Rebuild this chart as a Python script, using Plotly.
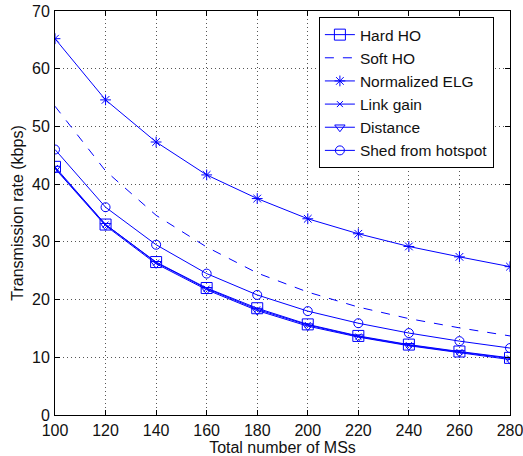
import plotly.graph_objects as go

x = [100, 120, 140, 160, 180, 200, 220, 240, 260, 280]
hard_ho = [43.0, 33.0, 26.5, 22.0, 18.5, 15.7, 13.7, 12.2, 11.0, 9.9]
soft_ho = [53.5, 42.3, 34.6, 29.1, 24.6, 21.3, 18.7, 16.7, 15.1, 13.7]
norm_elg = [65.2, 54.6, 47.3, 41.6, 37.5, 34.0, 31.4, 29.2, 27.4, 25.7]
link_gain = [42.8, 33.0, 26.4, 21.9, 18.3, 15.6, 13.6, 12.1, 10.9, 9.8]
distance = [42.7, 32.8, 26.2, 21.7, 18.1, 15.4, 13.5, 12.0, 10.8, 9.6]
shed = [46.0, 36.0, 29.5, 24.5, 20.8, 18.0, 15.9, 14.2, 12.8, 11.6]

blue = "#0000ff"
FONT = "Liberation Sans, Arial"
fig = go.Figure()

def add(name, y, symbol, size, dash="solid"):
    mode = "lines" if symbol is None else "lines+markers"
    fig.add_trace(go.Scatter(
        x=x, y=y, name=name, mode=mode,
        line=dict(color=blue, width=1, dash=dash),
        marker=dict(symbol=symbol or "circle", size=size, color=blue,
                    line=dict(color=blue, width=1)),
    ))

add("Hard HO", hard_ho, "square-open", 11)
add("Soft HO", soft_ho, None, 0, dash="dash")
add("Normalized ELG", norm_elg, "asterisk-open", 9)
add("Link gain", link_gain, "x-thin-open", 6)
add("Distance", distance, "triangle-down-open", 9)
add("Shed from hotspot", shed, "circle-open", 9)

axis_common = dict(
    showline=True, linecolor="black", linewidth=1, mirror="ticks",
    ticks="inside", ticklen=5, tickcolor="black",
    showgrid=True, gridcolor="#555555", griddash="1px,3px", gridwidth=1,
    zeroline=False, automargin=False, ticklabeloverflow="allow",
    tickfont=dict(family=FONT, size=16, color="#111111"),
)

fig.update_xaxes(range=[100, 280], dtick=20, tick0=100, ticklabelstandoff=1,
                 title=dict(text="Total number of MSs", standoff=0,
                            font=dict(family=FONT, size=16, color="#111111")),
                 **axis_common)
fig.update_yaxes(range=[0, 70], dtick=10, ticklabelstandoff=1,
                 title=dict(text="Transmission rate (kbps)", standoff=4,
                            font=dict(family=FONT, size=16, color="#111111")),
                 **axis_common)

fig.update_layout(
    width=523, height=456,
    margin=dict(l=55, r=13, t=11, b=41),
    plot_bgcolor="white", paper_bgcolor="white",
    showlegend=True,
    legend=dict(x=0.580, y=0.985, xanchor="left", yanchor="top",
                bgcolor="white", bordercolor="black", borderwidth=1,
                font=dict(family=FONT, size=15.5, color="#111111"),
                tracegroupgap=0, itemwidth=30),
)

fig.write_html("out.html")
